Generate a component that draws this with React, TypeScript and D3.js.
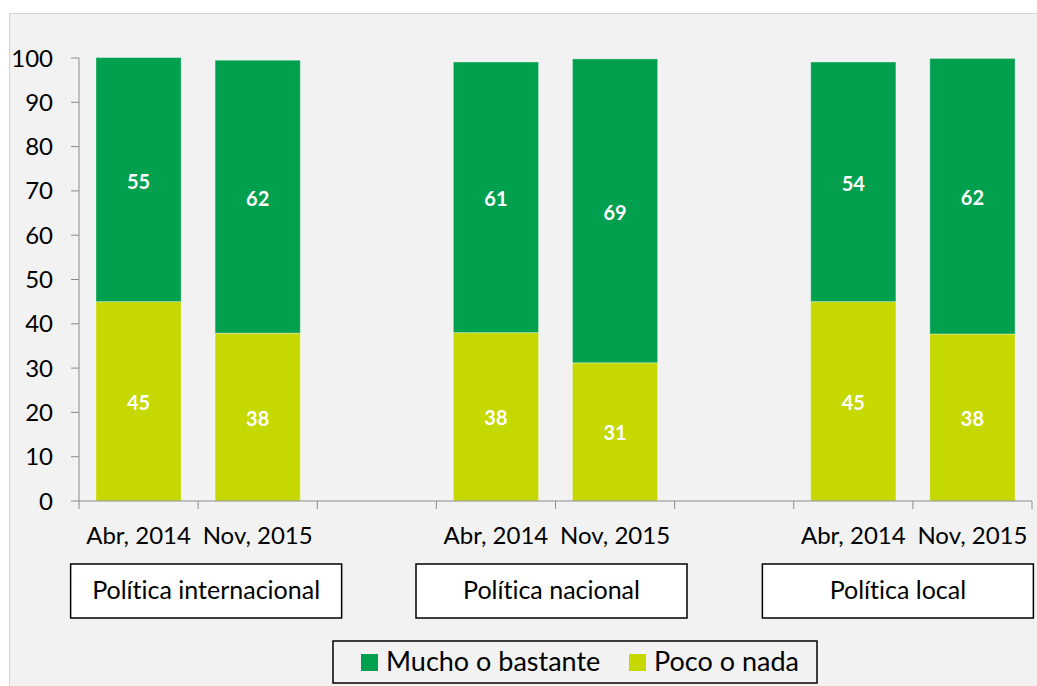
import React from "react";
import * as d3 from "d3";

const groups = ["Política internacional", "Política nacional", "Política local"];
const periods = ["Abr, 2014", "Nov, 2015"];
const seriesNames = ["Mucho o bastante", "Poco o nada"];
// order: group0-Abr, group0-Nov, group1-Abr, group1-Nov, group2-Abr, group2-Nov
const mucho = [55.1, 61.6, 61.1, 68.6, 54.1, 62.2];
const poco = [45.0, 37.9, 38.0, 31.2, 45.0, 37.7];
const yTicks = [0, 10, 20, 30, 40, 50, 60, 70, 80, 90, 100];

const W = 1037;
const H = 686;
const GREEN = "#00A04E";
const LIME = "#C5D800";
const FONT = "Lato, 'Open Sans', sans-serif";

// slots: two bars per group, one empty slot between groups
type Slot = { key: string; gi: number; pi: number; idx: number };
const slots: Slot[] = [];
groups.forEach((g, gi) => {
  periods.forEach((p, pi) => slots.push({ key: `${gi}-${pi}`, gi, pi, idx: gi * 2 + pi }));
  if (gi < groups.length - 1) slots.push({ key: `gap${gi}`, gi: -1, pi: -1, idx: -1 });
});

// label boxes layout (x offset from group centre, width)
const boxLayout = [
  { dx: 8, w: 271 },
  { dx: -4, w: 271 },
  { dx: -15, w: 271 },
];

export default function App() {
  const plotL = 79, plotR = 1032, plotT = 58, plotB = 501;
  const x = d3
    .scaleBand<string>()
    .domain(slots.map((s) => s.key))
    .range([plotL, plotR])
    .paddingInner(0.285)
    .paddingOuter(0.1425);
  const y = d3.scaleLinear().domain([0, 100]).range([plotB, plotT]);
  const step = x.step();
  const bw = x.bandwidth();
  const tickXs = d3.range(slots.length + 1).map((i) => plotL + i * step);
  const axisColor = "#8c8c8c";

  return (
    <svg
      width={W}
      height={H}
      style={{ position: "absolute", left: 0, top: 0, fontVariantLigatures: "none", fontFeatureSettings: '"liga" 0' }}
      fontFamily={FONT}
    >
      <rect x={0} y={0} width={W} height={H} fill="#ffffff" />
      <rect x={9.5} y={13.5} width={W + 10} height={H + 10} fill="#F2F2F2" stroke="#D4D4D4" strokeWidth={1} />

      {/* bars */}
      {slots
        .filter((s) => s.idx >= 0)
        .map((s) => {
          const x0 = x(s.key)!;
          const p = poco[s.idx];
          const m = mucho[s.idx];
          const yPocoTop = y(p);
          const yMuchoTop = y(p + m);
          return (
            <g key={s.key}>
              <rect x={x0} y={yPocoTop} width={bw} height={plotB - yPocoTop} fill={LIME} stroke="rgba(255,255,255,0.35)" strokeWidth={1} />
              <rect x={x0} y={yMuchoTop} width={bw} height={yPocoTop - yMuchoTop} fill={GREEN} stroke="rgba(255,255,255,0.35)" strokeWidth={1} />
              <text x={x0 + bw / 2} y={(yPocoTop + plotB) / 2 + 8.5} textAnchor="middle" fill="#fff" fontWeight="bold" fontSize={20}>
                {Math.round(p)}
              </text>
              <text x={x0 + bw / 2} y={(yMuchoTop + yPocoTop) / 2 + 9} textAnchor="middle" fill="#fff" fontWeight="bold" fontSize={20}>
                {Math.round(m)}
              </text>
            </g>
          );
        })}

      {/* y axis */}
      <line x1={plotL} x2={plotL} y1={plotT} y2={plotB} stroke={axisColor} strokeWidth={1} />
      {yTicks.map((t) => (
        <g key={t}>
          <line x1={plotL - 8} x2={plotL} y1={y(t)} y2={y(t)} stroke={axisColor} strokeWidth={1} />
          <text x={53} y={y(t) + 8.5} textAnchor="end" fontSize={24} fill="#000">
            {t}
          </text>
        </g>
      ))}

      {/* x axis */}
      <line x1={plotL} x2={plotR} y1={plotB} y2={plotB} stroke={axisColor} strokeWidth={1} />
      {tickXs.map((tx, i) => (
        <line key={i} x1={tx} x2={tx} y1={plotB} y2={plotB + 8} stroke={axisColor} strokeWidth={1} />
      ))}
      {slots
        .filter((s) => s.idx >= 0)
        .map((s) => (
          <text key={s.key} x={x(s.key)! + bw / 2} y={544} textAnchor="middle" fontSize={24} fill="#000">
            {periods[s.pi]}
          </text>
        ))}

      {/* group boxes */}
      {groups.map((g, gi) => {
        const a = x(`${gi}-0`)!;
        const b = x(`${gi}-1`)! + bw;
        const cx = (a + b) / 2 + boxLayout[gi].dx;
        const w = boxLayout[gi].w;
        return (
          <g key={g}>
            <rect x={cx - w / 2} y={564} width={w} height={54} fill="#fff" stroke="#000" strokeWidth={1.5} />
            <text x={cx} y={599} textAnchor="middle" fontSize={25} fill="#000">
              {g}
            </text>
          </g>
        );
      })}

      {/* legend */}
      <rect x={333} y={641} width={484} height={42} fill="#F2F2F2" stroke="#000" strokeWidth={1.5} />
      {seriesNames.map((n, i) => {
        const lx = i === 0 ? 361 : 629;
        return (
          <g key={n}>
            <rect x={lx} y={654} width={17} height={17} fill={i === 0 ? GREEN : LIME} />
            <text x={lx + 25} y={671} fontSize={27} fill="#000">
              {n}
            </text>
          </g>
        );
      })}
    </svg>
  );
}
